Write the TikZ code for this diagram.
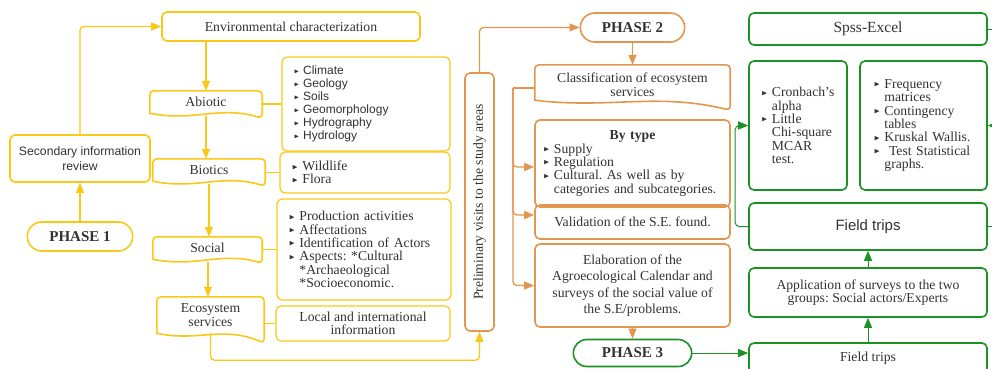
\documentclass[tikz,border=0pt]{standalone}
\usepackage{fontspec}
\usepackage{amssymb}
\setmainfont{Liberation Serif}
\newfontfamily\arialf{Liberation Sans}
\usetikzlibrary{arrows.meta,shapes.misc,calc}
\definecolor{ycol}{RGB}{250,200,25}
\definecolor{ocol}{RGB}{226,150,78}
\definecolor{gcol}{RGB}{25,145,35}
\definecolor{tcol}{RGB}{50,50,50}
\hyphenpenalty=10000
\exhyphenpenalty=10000
\frenchspacing
\newcommand{\tri}{\raisebox{0.25ex}{\scalebox{0.55}{$\blacktriangleright$}}\ }
\newcommand{\ind}{\phantom{\tri}}
\newcommand{\docedge}[3]{%
	\draw[#2,line width=1.6pt,rounded corners=4pt] (#1.south west) -- (#1.north west) -- (#1.north east) -- ([yshift=-#3]#1.south east) [sharp corners]
		.. controls ([yshift=8pt]$(#1.south west)!0.62!(#1.south east)$) and ([yshift=-9pt]$(#1.south west)!0.38!(#1.south east)$) .. cycle;}

\begin{document}
\begin{tikzpicture}[x=1pt,y=-1pt,
	every node/.style={text=tcol,font=\fontsize{13.7}{15}\selectfont},
	ybox/.style={draw=ycol,line width=1.6pt,rounded corners=5pt,align=center},
	ylist/.style={draw=ycol,line width=1.2pt,rounded corners=5pt,align=left,inner xsep=12pt},
	obox/.style={draw=ocol,line width=1.6pt,rounded corners=5pt,align=center},
	gbox/.style={draw=gcol,line width=1.6pt,rounded corners=5pt,align=center},
	docnode/.style={align=center,inner sep=0pt},
	phase/.style={rounded rectangle,draw=#1,line width=1.6pt,font=\bfseries\fontsize{15}{17}\selectfont},
	yline/.style={ycol,line width=1.3pt,rounded corners=4pt},
	yarrow/.style={yline,-{Triangle[length=10pt,width=8pt]}},
	oline/.style={ocol,line width=1.3pt,rounded corners=4pt},
	oarrow/.style={oline,-{Triangle[length=10pt,width=8pt]}},
	gline/.style={gcol,line width=1pt,rounded corners=4pt},
	garrow/.style={gline,-{Triangle[length=10pt,width=8pt]}}]
	\useasboundingbox (0,0) rectangle (992,368);

	\node[ybox,minimum width=258pt,minimum height=29pt] (env) at (291,26.5) {Environmental characterization};
	\node[ybox,font=\arialf\fontsize{12.2}{14.5}\selectfont,minimum width=140pt,minimum height=47pt] (sec) at (80,158.5) {Secondary information\\review};
	\node[phase=ycol,minimum width=112pt,minimum height=29pt] (p1) at (80,236.5) {PHASE 1};

	\node[docnode,minimum width=112pt,minimum height=22pt] (abio) at (206,102) {Abiotic};
	\node[docnode,minimum width=112pt,minimum height=22pt] (bio) at (209,170) {Biotics};
	\node[docnode,minimum width=109pt,minimum height=22pt] (social) at (207.5,248) {Social};
	\node[docnode,font=\fontsize{13.7}{14}\selectfont,minimum width=107pt,minimum height=36pt] (eco) at (210.5,315) {Ecosystem\\services};
	\docedge{abio}{ycol}{5pt}
	\docedge{bio}{ycol}{5pt}
	\docedge{social}{ycol}{4pt}
	\docedge{eco}{ycol}{10pt}

	\node[ylist,font=\arialf\fontsize{12}{13}\selectfont,text width=144pt,minimum height=94pt] (abil) at (366,104) {\tri Climate\\\tri Geology\\\tri Soils\\\tri Geomorphology\\\tri Hydrography\\\tri Hydrology};
	\node[ylist,font=\fontsize{13.7}{13.3}\selectfont,text width=146pt,minimum height=41pt] (biol) at (365,172.5) {\tri Wildlife\\\tri Flora};
	\node[ylist,font=\fontsize{13.7}{13.4}\selectfont,text width=150pt,minimum height=101pt] (socl) at (364,249.5) {\tri Production activities\\\tri Affectations\\\tri Identification of Actors\\\tri Aspects: *Cultural\\\ind *Archaeological\\\ind *Socioeconomic.};
	\node[ybox,line width=1.2pt,font=\fontsize{13.7}{12.5}\selectfont,minimum width=174pt,minimum height=35pt] (loc) at (363,323.5) {Local and international\\information};

	\node[obox,minimum width=29pt,minimum height=258pt,inner sep=0pt] (pre) at (479.5,202) {\rotatebox{90}{Preliminary visits to the study areas}};

	\draw[yarrow] (sec.north) |- (env.west);
	\draw[yarrow] (p1.north) -- (sec.south);
	\draw[yarrow] (abio.north |- env.south) -- (abio.north);
	\draw[yarrow] ([yshift=-3pt]abio.south) -- (abio.south |- bio.north);
	\draw[yarrow] ([yshift=-3pt]bio.south) -- (bio.south |- social.north);
	\draw[yarrow] ([xshift=0.5pt,yshift=-3pt]social.south) -- ([xshift=0.5pt]social.south |- eco.north);
	\draw[yline] (abil.west -| abio.east) -- (abil.west);
	\draw[yline] (biol.west -| bio.east) -- (biol.west);
	\draw[yline] (socl.west -| social.east) -- (socl.west);
	\draw[yline] (loc.west -| eco.east) -- (loc.west);
	\draw[yarrow] (eco.south) -- ++(0,27) -| (pre.south);

	\node[phase=ocol,minimum width=111pt,minimum height=29pt] (p2) at (632.5,27.5) {PHASE 2};
	\node[docnode,font=\fontsize{13.7}{13.5}\selectfont,minimum width=195pt,minimum height=35pt] (cls) at (632.5,82.5) {\rule{0pt}{14pt}Classification of ecosystem\\services};
	\docedge{cls}{ocol}{10pt}
	\node[obox,align=left,font=\fontsize{13.7}{13.3}\selectfont,text width=178pt,inner xsep=8.5pt,minimum height=87pt] (bytype) at (632.5,163.5) {\makebox[178pt]{\bfseries By type}\\\tri Supply\\\tri Regulation\\\tri Cultural. As well as by\\\ind categories and subcategories.};
	\node[obox,minimum width=195pt,minimum height=34pt] (valid) at (632.5,222) {Validation of the S.E. found.};
	\node[obox,font=\fontsize{13.7}{16.5}\selectfont,minimum width=195pt,minimum height=83pt] (elab) at (632.5,285.5) {Elaboration of the\\Agroecological Calendar and\\surveys of the social value of\\the S.E/problems.};
	\node[phase=gcol,minimum width=125pt,minimum height=27pt] (p3) at (632.5,353) {PHASE 3};

	\coordinate (obus) at (513,88);
	\draw[oarrow] (pre.north) |- (p2.west);
	\draw[oarrow] (p2.south) -- (cls.north);
	\draw[oline] ([yshift=-5.5pt]cls.west) -- (obus);
	\draw[oarrow] (obus) |- ([yshift=-3.5pt]bytype.west);
	\draw[oarrow] (obus) |- ([yshift=7pt]valid.west);
	\draw[oarrow] (obus) |- (elab.west);
	\draw[oarrow] (elab.south) -- (p3.north);

	\node[gbox,font=\fontsize{15.5}{17}\selectfont,minimum width=238pt,minimum height=32pt] (spss) at (868,29) {Spss-Excel};
	\node[gbox,align=left,font=\fontsize{13.7}{13.4}\selectfont,text width=73pt,inner xsep=12.5pt,minimum height=129pt] (cron) at (798,125.5) {\tri Cronbach's\\\ind alpha\\\tri Little\\\ind Chi-square\\\ind MCAR\\\ind test.};
	\node[gbox,align=left,font=\fontsize{13.7}{13.4}\selectfont,text width=99pt,inner xsep=14pt,minimum height=129pt] (freq) at (923.5,125.5) {\tri Frequency\\\ind matrices\\\tri Contingency\\\ind tables\\\tri Kruskal Wallis.\\\tri\ Test Statistical\\\ind graphs.};
	\node[gbox,font=\arialf\fontsize{15}{17}\selectfont,minimum width=238pt,minimum height=47pt] (ft1) at (868,226.5) {Field trips};
	\node[gbox,font=\fontsize{13.7}{13}\selectfont,minimum width=238pt,minimum height=49pt] (app) at (868,292.5) {Application of surveys to the two\\groups: Social actors/Experts};
	\node[gbox,minimum width=238pt,minimum height=30pt] (ft2) at (868,358) {Field trips};

	\coordinate (offa) at (1000,29);
	\coordinate (offb) at (1000,125.5);
	\coordinate (offc) at (1000,226.5);
	\draw[gline] (spss.east) -- (offa);
	\draw[garrow] (offb) -- (freq.east);
	\draw[gline] (ft1.east) -- (offc);
	\draw[garrow] (ft1.west) -- ++(-13,0) |- (cron.west);
	\draw[garrow] (ft2.north) -- (app.south);
	\draw[garrow] (app.north) -- (ft1.south);
	\draw[garrow] (p3.east) -- (p3.east -| ft2.west);
\end{tikzpicture}
\end{document}
